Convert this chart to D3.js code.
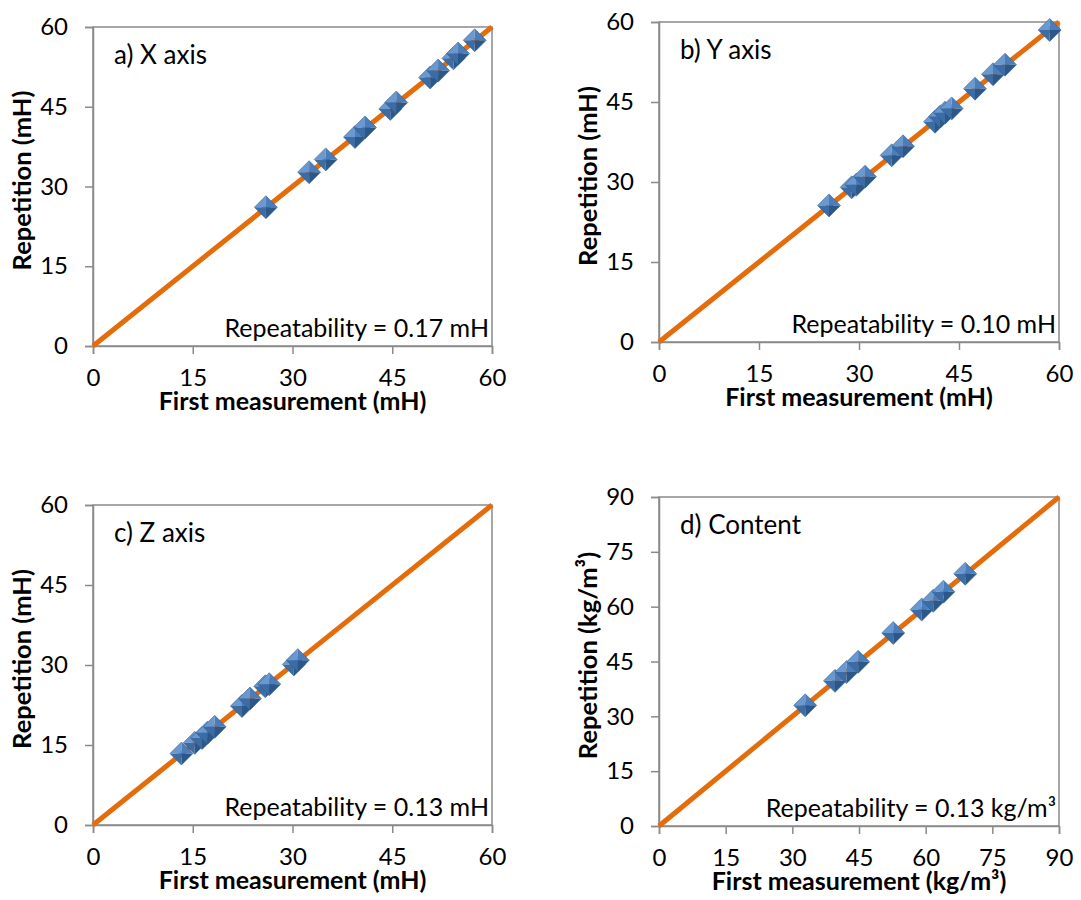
<!DOCTYPE html>
<html>
<head>
<meta charset="utf-8">
<script src="https://cdn.jsdelivr.net/npm/d3@7"></script>
<style>
  html, body { margin: 0; padding: 0; background: #ffffff; }
  svg text { font-family: Lato, "Noto Sans", sans-serif; fill: #000; }
</style>
</head>
<body>
<svg id="chart" width="1081" height="900"></svg>
<script>
// Repeatability test: first measurement vs. repetition for each channel.
const xAxisFirst  = [26.0, 32.5, 35.0, 39.4, 40.9, 44.7, 45.6, 50.7, 51.9, 54.2, 54.9, 57.4];
const xAxisRepeat = [26.1, 32.7, 35.1, 39.3, 41.1, 44.6, 45.8, 50.5, 51.8, 54.1, 55.0, 57.5];

const yAxisFirst  = [25.5, 28.9, 29.6, 30.9, 34.9, 36.6, 41.4, 42.2, 42.9, 43.9, 47.4, 50.1, 51.9, 58.6];
const yAxisRepeat = [25.6, 29.0, 29.5, 31.0, 35.0, 36.7, 41.3, 42.3, 43.0, 43.8, 47.5, 50.2, 52.0, 58.5];

const zAxisFirst  = [13.3, 15.3, 16.4, 17.2, 18.3, 22.4, 23.6, 25.9, 26.5, 30.2, 30.8];
const zAxisRepeat = [13.4, 15.4, 16.3, 17.3, 18.4, 22.3, 23.7, 26.0, 26.4, 30.1, 30.9];

const contentFirst  = [32.9, 39.6, 42.2, 44.8, 52.7, 59.1, 61.7, 64.0, 68.9];
const contentRepeat = [33.0, 39.7, 42.1, 44.9, 52.8, 59.2, 61.6, 64.1, 69.0];

const mhTicks      = [0, 15, 30, 45, 60];
const contentTicks = [0, 15, 30, 45, 60, 75, 90];

const panelTitles = ["a) X axis", "b) Y axis", "c) Z axis", "d) Content"];
const repeatabilityLabels = [
  "Repeatability = 0.17 mH",
  "Repeatability = 0.10 mH",
  "Repeatability = 0.13 mH",
  "Repeatability = 0.13 kg/m³"
];
const xTitles = ["First measurement (mH)", "First measurement (mH)", "First measurement (mH)", "First measurement (kg/m³)"];
const yTitles = ["Repetition (mH)", "Repetition (mH)", "Repetition (mH)", "Repetition (kg/m³)"];

// Plot-area frames for the 2x2 grid
const frames = [
  { left: 93,  top: 27,  width: 399, height: 319 },
  { left: 659, top: 22,  width: 400, height: 320 },
  { left: 93,  top: 505, width: 399, height: 320 },
  { left: 659, top: 497, width: 400, height: 329 }
];

const panels = [
  { first: xAxisFirst,   repeat: xAxisRepeat,   ticks: mhTicks },
  { first: yAxisFirst,   repeat: yAxisRepeat,   ticks: mhTicks },
  { first: zAxisFirst,   repeat: zAxisRepeat,   ticks: mhTicks },
  { first: contentFirst, repeat: contentRepeat, ticks: contentTicks }
];

const svg = d3.select("#chart");
const axisColor = "#8a8a8a";
const lineColor = "#E46C0A";
const facetColors = ["#6a98cf", "#4a7dba", "#3c6ca4", "#2c5789"];
const TICK_FONT = 24;
const NOTE_FONT = 25;
const TITLE_FONT = 25;
const R = 11.5; // half-diagonal of the diamond marker

panels.forEach((p, i) => {
  const f = frames[i];
  const maxV = p.ticks[p.ticks.length - 1];
  const x = d3.scaleLinear().domain([0, maxV]).range([0, f.width]);
  const y = d3.scaleLinear().domain([0, maxV]).range([f.height, 0]);

  const g = svg.append("g").attr("transform", `translate(${f.left},${f.top})`);

  // Plot area border
  g.append("rect")
    .attr("x", 0).attr("y", 0)
    .attr("width", f.width).attr("height", f.height)
    .attr("fill", "none").attr("stroke", axisColor).attr("stroke-width", 1.5);

  // x axis
  const xAxis = g.append("g")
    .attr("transform", `translate(0,${f.height})`)
    .call(d3.axisBottom(x).tickValues(p.ticks).tickSize(8).tickPadding(15).tickFormat(d3.format("d")));
  xAxis.select(".domain").attr("stroke", axisColor).attr("stroke-width", 1.5);
  xAxis.selectAll(".tick line").attr("stroke", axisColor).attr("stroke-width", 1.5);
  xAxis.selectAll(".tick text").attr("font-size", TICK_FONT).attr("fill", "#000");

  // y axis
  const yAxis = g.append("g")
    .call(d3.axisLeft(y).tickValues(p.ticks).tickSize(8).tickPadding(17).tickFormat(d3.format("d")));
  yAxis.select(".domain").attr("stroke", axisColor).attr("stroke-width", 1.5);
  yAxis.selectAll(".tick line").attr("stroke", axisColor).attr("stroke-width", 1.5);
  yAxis.selectAll(".tick text").attr("font-size", TICK_FONT).attr("fill", "#000");
  svg.selectAll(".tick text").attr("font-family", null).style("font-family", 'Lato, "Noto Sans", sans-serif');

  // 1:1 reference line
  g.append("line")
    .attr("x1", x(0)).attr("y1", y(0))
    .attr("x2", x(maxV)).attr("y2", y(maxV))
    .attr("stroke", lineColor).attr("stroke-width", 5);

  // Bevelled diamond markers
  const pts = p.first.map((v, k) => ({ fx: v, ry: p.repeat[k] }));
  const mk = g.append("g").selectAll("g.marker").data(pts).join("g")
    .attr("class", "marker")
    .attr("transform", d => `translate(${x(d.fx)},${y(d.ry)})`);
  const facets = [
    `M${-R},0L0,${-R}L0,0Z`,
    `M0,${-R}L${R},0L0,0Z`,
    `M${-R},0L0,${R}L0,0Z`,
    `M${R},0L0,${R}L0,0Z`
  ];
  facets.forEach((d, k) => {
    mk.append("path").attr("d", d).attr("fill", facetColors[k]);
  });
  mk.append("path")
    .attr("d", `M${-R},0L0,${-R}L${R},0L0,${R}Z`)
    .attr("fill", "none").attr("stroke", "#2f5d93").attr("stroke-width", 0.8).attr("stroke-opacity", 0.7);

  // Panel title
  g.append("text")
    .attr("x", 21).attr("y", 37)
    .attr("font-size", 26)
    .text(panelTitles[i]);

  // Repeatability note
  g.append("text")
    .attr("x", f.width - 3).attr("y", f.height - 9)
    .attr("text-anchor", "end")
    .attr("font-size", NOTE_FONT)
    .text(repeatabilityLabels[i]);

  // Axis titles
  g.append("text")
    .attr("x", f.width / 2).attr("y", f.height + 64)
    .attr("text-anchor", "middle")
    .attr("font-size", TITLE_FONT)
    .attr("font-weight", "bold")
    .text(xTitles[i]);

  g.append("text")
    .attr("transform", `translate(${-62},${f.height / 2 - 6}) rotate(-90)`)
    .attr("text-anchor", "middle")
    .attr("font-size", TITLE_FONT + 0.5)
    .attr("font-weight", "bold")
    .text(yTitles[i]);
});
</script>
</body>
</html>
